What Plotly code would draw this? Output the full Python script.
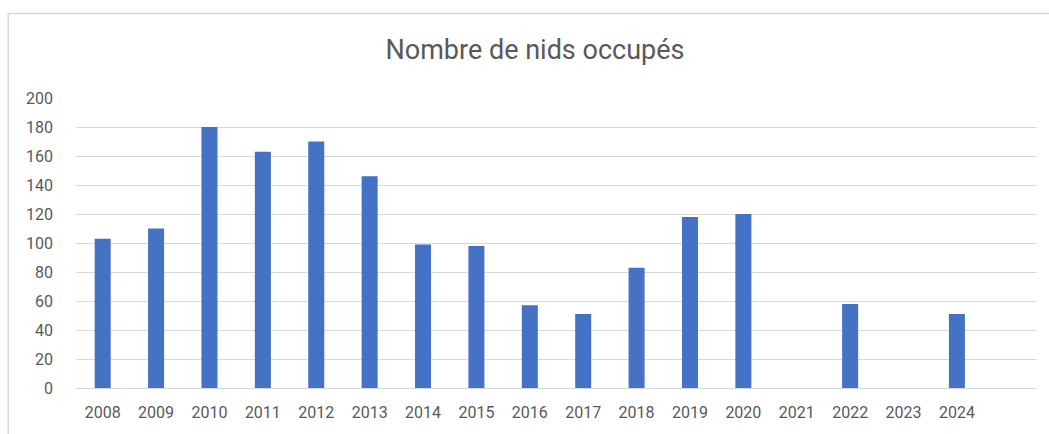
import plotly.graph_objects as go

years = [2008, 2009, 2010, 2011, 2012, 2013, 2014, 2015, 2016,
         2017, 2018, 2019, 2020, 2021, 2022, 2023, 2024]
nids = [103, 110, 180, 163, 170, 146, 99, 98, 57, 51, 83, 118, 120, 0, 58, 0, 51]
y_ticks = [0, 20, 40, 60, 80, 100, 120, 140, 160, 180, 200]

FONT = "Roboto, Arial, sans-serif"

fig = go.Figure(go.Bar(x=years, y=nids, width=0.3,
                       marker=dict(color="#4472C4", line=dict(width=0))))

fig.update_layout(
    width=1049, height=434,
    margin=dict(l=76, r=12, t=98, b=44),
    paper_bgcolor="white", plot_bgcolor="white",
    showlegend=False,
    title=dict(text="Nombre de nids occupés", x=0.51, xanchor="center", y=0.885, yanchor="middle",
               font=dict(family=FONT, size=27, color="#595959")),
    font=dict(family=FONT, color="#595959", size=16),
    shapes=[dict(type="rect", xref="paper", yref="paper", x0=-0.0705, x1=1.2, y0=-0.5, y1=1.291,
                 line=dict(color="#d9d9d9", width=1.5), fillcolor="rgba(0,0,0,0)", layer="below")],
)
fig.update_xaxes(range=[2007.5, 2025.5], tickvals=years, ticktext=[str(y) for y in years],
                 showgrid=False, showline=True, linecolor="#d9d9d9", linewidth=1,
                 zeroline=False, ticks="", ticklabelstandoff=10,
                 tickfont=dict(size=16, color="#595959"))
fig.update_yaxes(range=[0, 200], tickvals=y_ticks, showgrid=True, gridcolor="#d9d9d9", gridwidth=1,
                 zeroline=False, showline=False, ticks="", ticklabelstandoff=22,
                 tickfont=dict(size=16, color="#595959"))

fig.write_html("out.html", config={"displayModeBar": False},
               post_script="document.body.style.margin='0';")
